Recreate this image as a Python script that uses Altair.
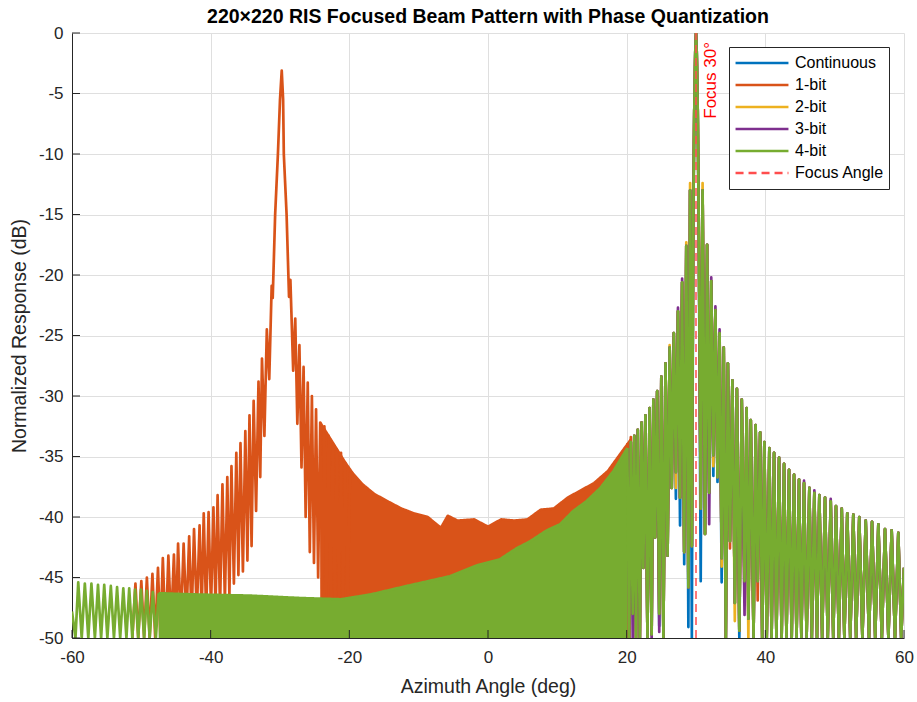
import altair as alt
import pandas as pd

# ---------------- series definitions ----------------
series_names = ["Continuous", "1-bit", "2-bit", "3-bit", "4-bit", "Focus Angle"]
series_colors = ["#0072BD", "#D95319", "#EDB120", "#7E2F8E", "#77AC30", "#FF4D4D"]
series_dashes = [[1, 0], [1, 0], [1, 0], [1, 0], [1, 0], [8, 5]]

focus_angle = 30
focus_label = "Focus 30°"
x_ticks = [-60, -40, -20, 0, 20, 40, 60]
y_ticks = [-50, -45, -40, -35, -30, -25, -20, -15, -10, -5, 0]

# ---------------- 4-bit : far-left sidelobes (peaks / nulls) ----------------
g_left_ang = [-60.0, -59.5, -59.1, -58.6, -58.15, -57.65, -57.2, -56.7, -56.25, -55.8,
              -55.35, -54.9, -54.4, -53.95, -53.5, -53.05, -52.6, -52.15, -51.75, -51.3,
              -50.9, -50.45, -50.05, -49.6, -49.2, -48.8, -48.35, -47.9, -47.5]
g_left_db = [-47.8, -50, -45.4, -50, -45.5, -50, -45.5, -50, -45.6, -50,
             -45.6, -50, -45.7, -50, -45.8, -50, -45.9, -50, -45.9, -50,
             -46.0, -50, -46.0, -50, -46.1, -50, -46.2, -50, -46.3]

# ---------------- 4-bit : sidelobe envelope of the dense region ----------------
g_env_ang = [-47.5, -42.4, -34.2, -27.0, -21.2, -16.9, -11.7, -5.5, -1.6, 1.7,
             4.1, 6.1, 8.5, 10.4, 12.3, 14.2, 16.2, 18.1, 20.1]
g_env_db = [-46.3, -46.4, -46.5, -46.7, -46.8, -46.4, -45.7, -44.9, -44.0, -43.5,
            -42.6, -42.0, -41.1, -40.6, -39.5, -38.7, -37.6, -36.2, -34.3]

# ---------------- 4-bit : main beam region lobes (peaks / nulls) ----------------
beam_ang = [20.1, 20.35, 20.6, 20.87, 21.1, 21.35, 21.6, 21.9, 22.15, 22.4,
            22.7, 23.0, 23.3, 23.6, 23.85, 24.1, 24.4, 24.7, 25.0, 25.3,
            25.6, 25.9, 26.2, 26.5, 26.8, 27.1, 27.4, 27.7, 28.0, 28.3,
            28.6, 28.9, 29.15, 29.4, 29.6, 29.75, 29.9, 30.0, 30.1, 30.25,
            30.4, 30.68, 30.95, 31.3, 31.6, 31.9, 32.2, 32.5, 32.8, 33.1,
            33.4, 33.7, 34.0, 34.3, 34.6, 34.9, 35.25, 35.6, 35.9, 36.25,
            36.6, 37.0, 37.3, 37.55, 37.9, 38.3, 38.6, 38.9, 39.25, 39.55,
            39.86, 40.2, 40.58, 40.9, 41.26, 41.6, 41.98, 42.35, 42.7, 43.05,
            43.42, 43.8, 44.14, 44.5, 44.86, 45.2, 45.58, 45.95, 46.35, 46.7,
            47.07, 47.45, 47.79, 48.2, 48.61, 49.0, 49.43, 49.8, 50.19, 50.6,
            51.02, 51.4, 51.82, 52.25, 52.69, 53.1, 53.55, 54.0, 54.48, 54.95,
            55.39, 55.85, 56.3, 56.8, 57.26, 57.75, 58.22, 58.7, 59.18, 59.6,
            60.0]
g_beam_db = [-34.3, -50, -33.8, -48, -33.3, -50, -32.8, -50, -32.2, -44.2,
             -31.6, -50, -31.0, -49.7, -30.3, -41.7, -29.6, -48.0, -28.4, -50,
             -27.3, -43.2, -26.0, -37.6, -24.8, -36.3, -23.0, -38.4, -20.6, -42.9,
             -17.6, -45.8, -13.0, -42.4, -16.0, -6.5, -1.5, 0.0, -1.5, -6.5,
             -16.0, -39.3, -13.0, -41.4, -17.5, -38.0, -20.5, -34.9, -22.9, -36.7,
             -24.8, -43.4, -26.0, -50, -27.3, -42.0, -28.7, -47.1, -29.4, -49.4,
             -30.3, -45.3, -31.0, -48.4, -32.0, -50, -32.4, -45.3, -33.0, -50,
             -33.8, -50, -34.3, -50, -34.7, -50, -35.1, -50, -35.6, -50,
             -36.1, -50, -36.5, -50, -36.9, -50, -37.2, -50, -37.6, -50,
             -38.0, -50, -38.2, -50, -38.4, -50, -38.7, -50, -39.1, -50,
             -39.3, -50, -39.7, -50, -39.8, -50, -40.0, -50, -40.3, -50,
             -40.4, -50, -40.6, -50, -41.0, -50, -41.1, -50, -41.3, -50,
             -44.2]

# differences of the other series in the main-beam region (angle -> dB)
cont_beam_diff = {24.7: -49.0, 27.1: -38.5, 27.7: -40.7, 28.3: -43.9, 28.9: -49.1,
                  29.4: -50.0, 30.68: -45.3, 32.5: -36.6, 33.1: -37.1, 33.7: -45.4,
                  36.25: -50.0}
bit1_beam_diff = {20.1: -33.9, 20.6: -33.4, 34.9: -42.6, 37.0: -46.9, 38.9: -46.9}
bit2_beam_diff = {26.2: -25.8, 27.1: -37.6, 28.6: -17.3, 29.15: -12.4, 30.95: -12.4,
                  32.5: -35.8, 33.7: -44.1, 35.6: -48.6, 37.55: -50.0}
bit3_beam_diff = {20.87: -50.0, 23.6: -50.0, 24.7: -49.5, 27.4: -22.7, 28.0: -20.3,
                  31.9: -40.6, 32.2: -20.2, 32.8: -22.6, 33.4: -24.5, 37.0: -48.1,
                  45.58: -37.0, 47.07: -37.8, 49.43: -38.5}

# ---------------- 1-bit : quantisation lobe near -30 deg (peaks / nulls) ----------------
o_ang = [-51.3, -50.85, -50.45, -50.0, -49.6, -49.2, -48.8, -48.4, -48.0, -47.6,
         -47.25, -46.9, -46.5, -46.1, -45.7, -45.3, -45.0, -44.7, -44.3, -43.9,
         -43.5, -43.1, -42.75, -42.4, -42.0, -41.6, -41.3, -41.0, -40.65, -40.3,
         -39.95, -39.6, -39.3, -39.0, -38.65, -38.3, -37.95, -37.6, -37.3, -37.0,
         -36.65, -36.3, -36.0, -35.7, -35.35, -35.0, -34.7, -34.4, -34.1, -33.8,
         -33.45, -33.1, -32.85, -32.6, -32.25, -31.9, -31.55, -31.2, -31.05, -30.7,
         -30.3, -30.0, -29.75, -29.55, -29.45, -29.05, -28.7, -28.5, -28.1, -27.8,
         -27.5, -27.2, -26.9, -26.6, -26.3, -26.0, -25.7, -25.4, -25.1, -24.8,
         -24.5, -24.2, -23.9, -23.6, -23.3, -23.0, -22.7, -22.4, -22.1, -21.8,
         -21.5, -21.2, -20.9, -20.6, -20.25, -19.9]
o_db = [-50, -45.5, -50, -45.3, -50, -45.0, -50, -44.7, -50, -44.2,
        -50, -43.4, -50, -43.2, -49, -43.1, -49, -42.2, -49, -42.2,
        -48.5, -41.6, -48.5, -41.0, -48, -40.7, -48, -39.7, -48, -39.6,
        -47.5, -39.2, -47.5, -38.2, -47.5, -37.3, -47, -36.7, -46.5, -35.8,
        -45.5, -34.7, -44.8, -33.9, -44.5, -32.9, -43.6, -31.6, -42.4, -30.4,
        -39.5, -28.8, -36.7, -26.9, -33.3, -24.5, -28.6, -20.9, -21.9, -15.0,
        -10.0, -5.5, -3.1, -5.5, -10.0, -15.0, -21.8, -20.4, -27.9, -23.6,
        -32.3, -25.8, -35.9, -27.6, -40.0, -28.9, -42.9, -30.0, -43.8, -31.1,
        -45.0, -32.2, -46, -32.5, -46.5, -33.3, -47, -33.9, -47, -34.4,
        -47, -34.7, -47, -35.5, -47, -36.3]

# 1-bit sidelobe envelope of its dense region
o_env_ang = [-24.2, -23.0, -21.8, -20.6, -19.5, -18.1, -16.4, -14.5, -12.5, -10.7,
             -8.7, -6.8, -5.8, -4.4, -2.0, 0.0, 1.9, 3.8, 5.7, 7.6,
             9.5, 11.5, 13.4, 15.3, 17.3, 19.2, 20.6]
o_env_db = [-32.2, -33.3, -34.4, -35.5, -36.4, -37.3, -38.1, -38.7, -39.3, -39.7,
            -40.0, -40.9, -39.9, -40.3, -40.2, -40.8, -40.2, -40.3, -40.2, -39.4,
            -39.3, -38.4, -37.8, -37.2, -36.2, -34.7, -33.6]


# ---------------- tables ----------------
def frame(series, angles, values):
    return pd.DataFrame({"angle": angles, "db": values, "series": series})


def beam_frame(series, diff):
    vals = [diff.get(a, v) for a, v in zip(beam_ang, g_beam_db)]
    return frame(series, beam_ang, vals)


focus_df = frame("Focus Angle", [focus_angle, focus_angle], [y_ticks[0], y_ticks[-1]])

FONT = "Liberation Sans"
DARK = "#262626"

x_scale = alt.Scale(domain=[x_ticks[0], x_ticks[-1]], nice=False, zero=False)
y_scale = alt.Scale(domain=[y_ticks[0], y_ticks[-1]], nice=False, zero=False)
x_axis = alt.Axis(values=x_ticks, title="Azimuth Angle (deg)", labelExpr="'' + datum.value",
                  labelPadding=11, titlePadding=12, grid=True, labelFlush=False)
y_axis = alt.Axis(values=y_ticks, title="Normalized Response (dB)", labelExpr="'' + datum.value",
                  labelPadding=9, titlePadding=9, grid=True, labelFlush=False)


def X(field="angle"):
    return alt.X(f"{field}:Q", scale=x_scale, axis=x_axis)


def Y(field="db"):
    return alt.Y(f"{field}:Q", scale=y_scale, axis=y_axis)


legend = alt.Legend(title=None, orient="none", legendX=657, legendY=14,
                    symbolType="stroke", symbolSize=2800, symbolStrokeWidth=2.5,
                    labelFontSize=16, labelColor="#000000", labelFont=FONT,
                    strokeColor=DARK, fillColor="white", padding=5,
                    rowPadding=0, clipHeight=22, labelOffset=5)
C = alt.Color("series:N", scale=alt.Scale(domain=series_names, range=series_colors), legend=legend)
D = alt.StrokeDash("series:N", scale=alt.Scale(domain=series_names, range=series_dashes), legend=legend)


def line_layer(df, width=2.7):
    return alt.Chart(df).mark_line(strokeWidth=width, clip=True, strokeJoin="round").encode(
        x=X(), y=Y(), color=C, strokeDash=D)


def area_layer(df, color):
    return alt.Chart(df).mark_area(color=color, clip=True, strokeWidth=0).encode(
        x=X(), y=Y(), y2=alt.datum(y_ticks[0]))


layers = [
    line_layer(beam_frame("Continuous", cont_beam_diff)),
    area_layer(frame("1-bit", o_env_ang, o_env_db), series_colors[1]),
    line_layer(frame("1-bit", o_ang, o_db)),
    line_layer(frame("1-bit", o_env_ang, o_env_db)),
    line_layer(beam_frame("1-bit", bit1_beam_diff)),
    line_layer(beam_frame("2-bit", bit2_beam_diff)),
    line_layer(beam_frame("3-bit", bit3_beam_diff)),
    area_layer(frame("4-bit", g_env_ang, g_env_db), series_colors[4]),
    line_layer(frame("4-bit", g_env_ang, g_env_db)),
    line_layer(frame("4-bit", g_left_ang, g_left_db)),
    line_layer(beam_frame("4-bit", {})),
    line_layer(focus_df, width=1.5),
    alt.Chart(pd.DataFrame({"t": [focus_label]})).mark_text(
        angle=270, align="right", baseline="middle", fontSize=17, font=FONT,
        color="#FF0000", dx=-9, dy=15).encode(
        x=alt.datum(focus_angle), y=alt.datum(y_ticks[-1]), text="t:N"),
    alt.Chart(pd.DataFrame({"t": y_ticks})).mark_rule(color=DARK, strokeWidth=1).encode(
        y=Y("t"), x=alt.value(0), x2=alt.value(8)),
    alt.Chart(pd.DataFrame({"t": x_ticks})).mark_rule(color=DARK, strokeWidth=1).encode(
        x=X("t"), y=alt.value(605), y2=alt.value(597)),
]

chart = alt.layer(*layers).properties(
    width=832, height=605,
    autosize=alt.AutoSizeParams(type="none"),
    padding={"left": 72, "top": 33, "right": 13, "bottom": 64},
    title=alt.TitleParams("220×220 RIS Focused Beam Pattern with Phase Quantization",
                          fontSize=19.5, fontWeight="bold", font=FONT, color="#000000",
                          anchor="middle", offset=9, dy=12, frame="group"),
).configure(font=FONT).configure_view(stroke=None).configure_axis(
    gridColor="#dfdfdf", gridWidth=1, domainColor=DARK, domainWidth=1,
    labelColor=DARK, titleColor=DARK, labelFontSize=17, titleFontSize=19.5,
    titleFontWeight="normal", labelFont=FONT, titleFont=FONT, ticks=False,
)

chart.save("out.html", embed_options={"renderer": "svg", "actions": False})
